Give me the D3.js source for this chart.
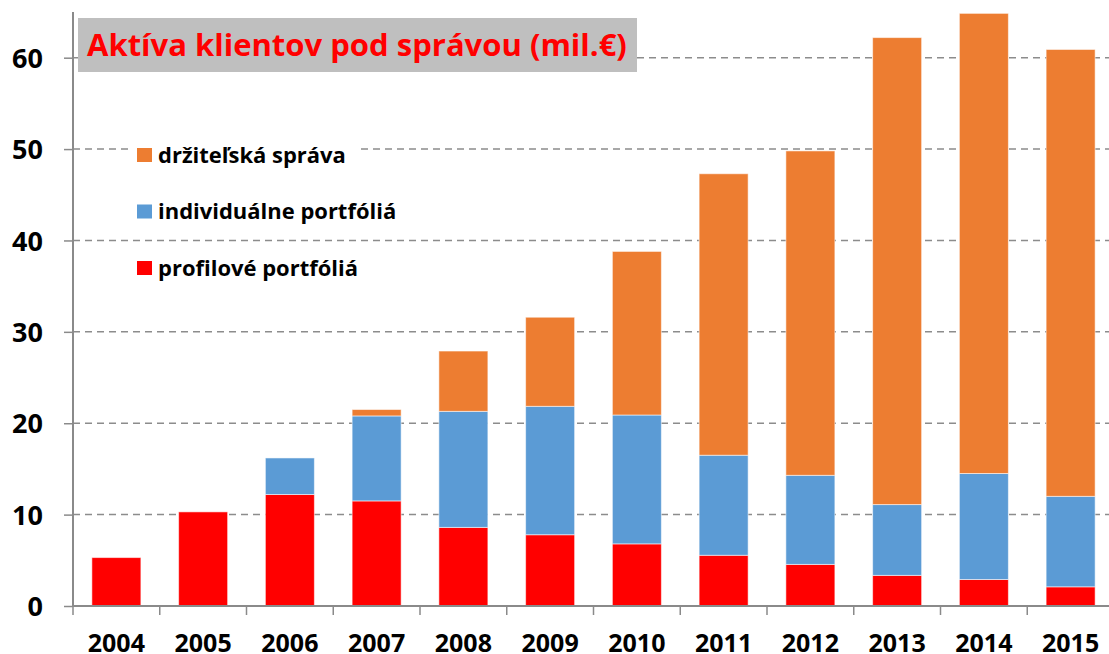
<!DOCTYPE html>
<html><head><meta charset="utf-8">
<script src="https://cdn.jsdelivr.net/npm/d3@7"></script>
<style>body{margin:0;background:#fff;}svg{display:block;font-family:"Open Sans",sans-serif;}</style>
</head><body><svg id="c" width="1109" height="654"></svg>
<script>
const years = ["2004","2005","2006","2007","2008","2009","2010","2011","2012","2013","2014","2015"];
// stacked components (mil. €)
const profilove   = [5.3,10.3,12.2,11.5,8.6,7.8,6.8,5.55,4.55,3.35,2.9,2.1];
const individualne= [0,0,4.0,9.3,12.7,14.05,14.1,10.95,9.75,7.75,11.6,9.9];
const drzitelska  = [0,0,0,0.7,6.6,9.75,17.9,30.8,35.5,51.1,50.35,48.9];
const yTicks = [0,10,20,30,40,50,60];
const seriesNames = ["profilové portfóliá","individuálne portfóliá","držiteľská správa"];
const seriesColors = ["#FF0000","#5B9BD5","#ED7D31"];
const titleText = "Aktíva klientov pod správou (mil.€)";

const FONT = "'Open Sans', sans-serif";
const svg = d3.select("#c");
const x0 = 73, x1 = 1114, yBase = 606, yTop = 12;
const x = d3.scaleBand().domain(years).range([x0, x1]).paddingInner(0.435).paddingOuter(0.2175);
const y = d3.scaleLinear().domain([0,65]).range([yBase, yTop]);

function fit(sel, target, base){
  sel.attr("font-size", base);
  const w = sel.node().getComputedTextLength();
  sel.attr("font-size", (base*target/w).toFixed(2));
}

// gridlines
svg.append("g").selectAll("line").data(yTicks.filter(d=>d>0)).join("line")
  .attr("x1", x0).attr("x2", 1109).attr("y1", d=>y(d)).attr("y2", d=>y(d))
  .attr("stroke","#8c8c8c").attr("stroke-width",1.5).attr("stroke-dasharray","7,5");

// stacked data
const rows = years.map((yr,i)=>({year:yr, p:profilove[i], ind:individualne[i], d:drzitelska[i]}));
const stack = d3.stack().keys(["p","ind","d"])(rows);
svg.append("g").selectAll("g").data(stack).join("g")
  .attr("fill",(d,i)=>seriesColors[i])
  .selectAll("rect").data(d=>d).join("rect")
  .attr("x", d=>x(d.data.year)).attr("width", x.bandwidth())
  .attr("y", d=>y(Math.min(d[1],65))).attr("height", d=>Math.max(0, y(d[0]) - y(Math.min(d[1],65))))
  .attr("stroke","rgba(255,255,255,0.55)").attr("stroke-width",1);

// y axis
const yAxis = svg.append("g").attr("transform",`translate(${x0},0)`)
  .call(d3.axisLeft(y).tickValues(yTicks).tickSize(9).tickPadding(21).tickFormat(d3.format("d")));
yAxis.select(".domain").attr("stroke","#8a8a8a").attr("stroke-width",2).attr("d",`M0,${yTop}V${yBase}`);
yAxis.selectAll(".tick line").attr("stroke","#8a8a8a").attr("stroke-width",1.5);
yAxis.selectAll(".tick text").attr("fill","#000").attr("font-size",27).attr("font-weight","bold")
  .attr("font-family",FONT).attr("dy","0.36em");

// x axis
const xAxis = svg.append("g").attr("transform",`translate(0,${yBase})`)
  .call(d3.axisBottom(x).tickSize(0).tickPadding(28));
xAxis.select(".domain").attr("stroke","#8a8a8a").attr("stroke-width",2).attr("d",`M${x0},0H${x1}`);
xAxis.selectAll(".tick text").attr("fill","#000").attr("font-size",25).attr("font-weight","bold")
  .attr("font-family",FONT).attr("dy","0.72em");
// category boundary ticks
const step = x.step();
svg.append("g").selectAll("line").data(years).join("line")
  .attr("x1",(d)=>x(d) - (step - x.bandwidth())/2)
  .attr("x2",(d)=>x(d) - (step - x.bandwidth())/2)
  .attr("y1",yBase).attr("y2",yBase+9).attr("stroke","#8a8a8a").attr("stroke-width",1.5);

// title
const tg = svg.append("g");
tg.append("rect").attr("x",78).attr("y",18).attr("width",559).attr("height",54).attr("fill","#BFBFBF");
const tt = tg.append("text").attr("x",87).attr("y",56).text(titleText)
  .attr("fill","#FF0000").attr("font-weight","bold").attr("font-family",FONT);
fit(tt, 540, 30);

// legend (top to bottom: držiteľská, individuálne, profilové)
const legendOrder = [2,1,0];
const lg = svg.append("g").selectAll("g").data(legendOrder).join("g")
  .attr("transform",(d,i)=>`translate(137,${155 + i*56.5})`);
lg.append("rect").attr("x",-4).attr("y",-14).attr("height",28).attr("fill","#fff")
  .attr("width",(d)=> d===1 ? 260 : 225);
lg.append("rect").attr("x",0).attr("y",-7).attr("width",15).attr("height",14).attr("fill",d=>seriesColors[d]);
const lt = lg.append("text").attr("x",21).attr("y",0).attr("dy","0.36em").text(d=>seriesNames[d])
  .attr("font-weight","bold").attr("fill","#000").attr("font-family",FONT);
fit(d3.select(lt.nodes()[0]), 188, 20);
const lfs = d3.select(lt.nodes()[0]).attr("font-size");
lt.attr("font-size", lfs);
</script></body></html>
